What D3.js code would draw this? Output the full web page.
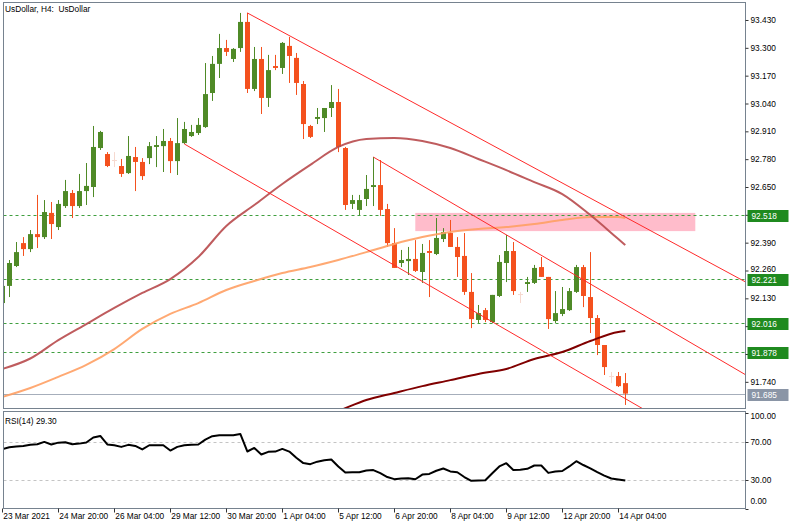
<!DOCTYPE html>
<html><head><meta charset="utf-8">
<script src="https://cdn.jsdelivr.net/npm/d3@7"></script>
<style>
body{margin:0;background:#fff;}
svg{display:block;}
text{font-family:"Liberation Sans",Arial,sans-serif;font-size:8.3px;fill:#000;}
</style>
</head><body><svg id="c" width="789" height="526"></svg>
<script>
// ---------- DATA ----------
const opens = [92.108,92.188,92.281,92.388,92.360,92.430,92.416,92.529,92.463,92.561,
92.622,92.561,92.631,92.650,92.832,92.804,92.776,92.748,92.715,92.790,
92.767,92.785,92.837,92.841,92.865,92.771,92.855,92.888,92.902,92.930,
93.089,93.225,93.299,93.248,93.299,93.421,93.108,93.248,93.066,93.215,
93.206,93.309,93.253,93.131,92.935,92.968,92.972,93.019,93.047,92.832,
92.571,92.543,92.594,92.650,92.659,92.547,92.388,92.295,92.304,92.314,
92.253,92.351,92.337,92.407,92.435,92.370,92.328,92.160,92.029,92.075,
92.019,92.141,92.295,92.351,92.150,92.197,92.202,92.276,92.230,92.024,
92.057,92.075,92.160,92.276,92.136,92.038,91.912,91.767,91.767,91.734];
const highs = [92.206,92.309,92.393,92.416,92.449,92.613,92.589,92.580,92.589,92.683,
92.636,92.711,92.762,92.935,92.912,92.813,92.813,92.781,92.888,92.837,
92.785,92.860,92.888,92.921,92.879,92.972,92.954,92.940,92.972,93.229,
93.262,93.365,93.337,93.299,93.463,93.463,93.304,93.304,93.267,93.267,
93.327,93.351,93.276,93.145,92.940,93.019,93.019,93.126,93.108,92.837,
92.613,92.613,92.706,92.790,92.776,92.571,92.458,92.356,92.370,92.402,
92.384,92.402,92.505,92.458,92.496,92.416,92.435,92.248,92.099,92.085,
92.146,92.332,92.426,92.393,92.160,92.230,92.286,92.323,92.230,92.164,
92.183,92.178,92.286,92.286,92.346,92.052,91.912,91.786,91.786,91.781];
const lows = [92.099,92.136,92.276,92.328,92.346,92.365,92.407,92.407,92.449,92.552,
92.505,92.552,92.566,92.603,92.823,92.743,92.743,92.697,92.711,92.631,
92.683,92.757,92.743,92.720,92.715,92.706,92.851,92.884,92.893,92.926,
93.052,93.159,93.262,93.234,93.281,93.089,93.098,92.991,93.024,93.196,
93.178,93.136,93.080,92.874,92.879,92.944,92.907,92.977,92.813,92.543,
92.547,92.519,92.561,92.561,92.515,92.370,92.272,92.276,92.239,92.253,
92.202,92.136,92.332,92.393,92.370,92.230,92.146,91.991,92.015,92.019,
92.015,92.136,92.206,92.146,92.108,92.160,92.197,92.230,91.987,92.015,
92.047,92.071,92.155,92.089,91.968,91.865,91.772,91.734,91.716,91.632];
const closes = [92.188,92.295,92.346,92.360,92.430,92.416,92.533,92.477,92.571,92.631,
92.561,92.631,92.655,92.837,92.907,92.748,92.776,92.711,92.795,92.767,
92.701,92.841,92.846,92.865,92.771,92.855,92.921,92.907,92.940,93.084,
93.225,93.299,93.281,93.295,93.421,93.108,93.248,93.066,93.196,93.206,
93.323,93.262,93.136,92.944,92.884,92.977,93.019,93.047,92.837,92.566,
92.589,92.589,92.641,92.659,92.543,92.388,92.272,92.309,92.314,92.258,
92.342,92.342,92.412,92.440,92.370,92.323,92.160,92.033,92.061,92.029,
92.146,92.300,92.351,92.164,92.150,92.206,92.272,92.230,92.033,92.061,
92.080,92.164,92.276,92.141,92.038,91.912,91.809,91.767,91.720,91.685];

const timeLabels = ["23 Mar 2021","24 Mar 20:00","26 Mar 04:00","29 Mar 12:00","30 Mar 20:00",
  "1 Apr 04:00","5 Apr 12:00","6 Apr 20:00","8 Apr 04:00","9 Apr 12:00","12 Apr 20:00","14 Apr 04:00"];
const timeLabelBars = [0,8,16,24,32,40,48,56,64,72,80,88];

// price grid ticks; the ones hidden behind level boxes get only a tick mark
const priceTicks = [93.430,93.300,93.170,93.040,92.910,92.780,92.650,92.520,92.390,92.260,92.130,92.000,91.870,91.740];
const hiddenTickLabels = [92.520,92.000,91.870];
const levelLines = [92.518,92.221,92.016,91.878];
const bidPrice = 91.685;

const maBars   = [0,4,8,12,16,20,24,28,32,36,40,44,48,52,56,60,64,68,72,76,80,84,88,89];
const maRed    = [91.800,91.849,91.935,92.010,92.085,92.155,92.220,92.323,92.468,92.566,92.664,92.753,
                  92.837,92.874,92.879,92.865,92.832,92.781,92.729,92.673,92.617,92.519,92.407,92.379];
const maOrange = [91.669,91.711,91.763,91.819,91.893,91.987,92.057,92.108,92.169,92.211,92.248,92.276,
                  92.309,92.346,92.384,92.416,92.440,92.454,92.463,92.477,92.496,92.510,92.510,92.505];
const maMaroonBars = [44,48,52,56,60,64,68,72,76,80,84,88,89];
const maMaroon = [91.560,91.604,91.655,91.688,91.720,91.748,91.777,91.800,91.847,91.879,91.931,91.973,91.977];

const rsiValues = [62.0,64.0,64.8,65.4,66.5,67.2,69.6,66.9,68.8,69.3,
67.2,67.8,69.0,74.2,75.8,66.9,66.1,64.4,66.5,65.4,
61.7,66.1,66.1,66.1,60.6,64.4,66.0,66.7,66.9,72.0,
75.5,76.6,76.6,76.6,77.9,59.6,63.3,56.5,59.2,59.5,
62.3,59.5,53.0,47.5,46.4,49.0,50.5,51.3,44.0,37.7,
37.9,38.0,39.8,40.2,37.0,33.0,30.8,31.5,31.8,30.7,
35.5,36.2,39.5,41.9,38.8,38.0,33.0,29.0,29.5,29.7,
37.0,44.0,47.4,40.4,40.6,41.5,45.0,45.0,37.3,38.8,
39.3,44.0,49.5,45.5,42.0,38.0,34.5,31.5,30.5,29.3];
const rsiLevels = [70,30];
const rsiTicks = [100,70,30,0];

const zoneBars = [59,99];
const zonePrices = [92.529,92.444];
const trendStart = [[35,93.463],[53,92.790],[26,92.851]];
const trendEnd   = [[110,92.139],[110,91.700],[110,91.265]];

// ---------- LAYOUT ----------
const L = 3.5, R = 745.5, mainTop = 2.5, mainBot = 408.5, rsiTop = 411.5, rsiBot = 508.5;
const frameColor = "#76828f";
const svg = d3.select("#c");

const x = d3.scaleLinear().domain([0,106]).range([2.3,744.3]);
const y = d3.scaleLinear().domain([91.6178,93.5094]).range([408,3]);
const ry = d3.scaleLinear().domain([0,100]).range([508.7,412.7]);

const defs = svg.append("defs");
defs.append("clipPath").attr("id","mainClip").append("rect")
  .attr("x",L).attr("y",mainTop).attr("width",R-L).attr("height",mainBot-mainTop);
defs.append("clipPath").attr("id","rsiClip").append("rect")
  .attr("x",L).attr("y",rsiTop).attr("width",R-L).attr("height",rsiBot-rsiTop);

const main = svg.append("g").attr("clip-path","url(#mainClip)");

// zone rectangle
main.append("rect")
  .attr("x",x(zoneBars[0])).attr("width",x(zoneBars[1])-x(zoneBars[0]))
  .attr("y",y(zonePrices[0])).attr("height",y(zonePrices[1])-y(zonePrices[0]))
  .attr("fill","#ffbccb");

// level lines
main.selectAll("line.lvl").data(levelLines).join("line").attr("class","lvl")
  .attr("x1",L).attr("x2",R).attr("y1",d=>Math.round(y(d))+0.5).attr("y2",d=>Math.round(y(d))+0.5)
  .attr("stroke","#3f9f3f").attr("stroke-width",1).attr("stroke-dasharray","3,3");

// bid line
main.append("line").attr("x1",L).attr("x2",R)
  .attr("y1",Math.round(y(bidPrice))+0.5).attr("y2",Math.round(y(bidPrice))+0.5)
  .attr("stroke","#a6aebb").attr("stroke-width",1);

// candles
const bars = d3.range(opens.length);
const candleColor = i => closes[i] > opens[i] ? "#4f8a27" : (closes[i] < opens[i] ? "#f4511e" : "#f6d9cf");
const cg = main.append("g");
cg.selectAll("line.wick").data(bars).join("line").attr("class","wick")
  .attr("x1",i=>Math.round(x(i))+0.5).attr("x2",i=>Math.round(x(i))+0.5)
  .attr("y1",i=>y(highs[i])).attr("y2",i=>y(lows[i]))
  .attr("stroke",candleColor).attr("stroke-width",1);
cg.selectAll("rect.body").data(bars).join("rect").attr("class","body")
  .attr("x",i=>Math.round(x(i))-2).attr("width",5)
  .attr("y",i=>y(Math.max(opens[i],closes[i])))
  .attr("height",i=>Math.max(1,Math.abs(y(opens[i])-y(closes[i]))))
  .attr("fill",candleColor);

// moving averages
const maLine = (bs, vs) => d3.line().curve(d3.curveMonotoneX).x((d,i)=>x(bs[i])).y(d=>y(d))(vs);
main.append("path").attr("d",maLine(maBars,maOrange)).attr("fill","none")
  .attr("stroke","#ffa064").attr("stroke-width",2).attr("stroke-opacity",0.9);
main.append("path").attr("d",maLine(maBars,maRed)).attr("fill","none")
  .attr("stroke","#b84a4c").attr("stroke-width",2).attr("stroke-opacity",0.9);
main.append("path").attr("d",maLine(maMaroonBars,maMaroon)).attr("fill","none")
  .attr("stroke","#800000").attr("stroke-width",2);

// trend lines
main.selectAll("line.trend").data(trendStart).join("line").attr("class","trend")
  .attr("x1",d=>x(d[0])).attr("y1",d=>y(d[1]))
  .attr("x2",(d,i)=>x(trendEnd[i][0])).attr("y2",(d,i)=>y(trendEnd[i][1]))
  .attr("stroke","#ff2a2a").attr("stroke-width",1);

// ---------- RSI ----------
const rsi = svg.append("g").attr("clip-path","url(#rsiClip)");
rsi.selectAll("line.rl").data(rsiLevels).join("line").attr("class","rl")
  .attr("x1",L).attr("x2",R).attr("y1",d=>Math.round(ry(d))+0.5).attr("y2",d=>Math.round(ry(d))+0.5)
  .attr("stroke","#c4c4c4").attr("stroke-dasharray","3,3");
rsi.append("path").datum(rsiValues)
  .attr("d",d3.line().x((d,i)=>x(i)).y(d=>ry(d)))
  .attr("fill","none").attr("stroke","#000").attr("stroke-width",2).attr("stroke-linejoin","round");
svg.append("text").attr("x",5).attr("y",424).text("RSI(14) " + rsiValues[rsiValues.length-1].toFixed(2));

// ---------- FRAME ----------
svg.append("rect").attr("x",L).attr("y",mainTop).attr("width",R-L).attr("height",mainBot-mainTop)
  .attr("fill","none").attr("stroke",frameColor);
svg.append("rect").attr("x",L).attr("y",rsiTop).attr("width",R-L).attr("height",rsiBot-rsiTop)
  .attr("fill","none").attr("stroke",frameColor);

// ---------- PRICE AXIS ----------
const fmt = d3.format(".3f");
const pa = svg.append("g").attr("transform",`translate(${R},0)`)
  .call(d3.axisRight(y).tickValues(priceTicks).tickSize(3).tickPadding(2)
    .tickFormat(d => hiddenTickLabels.includes(d) ? "" : fmt(d)));
pa.select(".domain").remove();
pa.selectAll("line").attr("stroke","#333");
pa.selectAll("text").attr("font-family",null).attr("font-size",null).attr("fill","#222")
  .attr("dy", d => d === 92.260 ? "0.1em" : "0.32em");

// level label boxes
const boxes = levelLines.map(v=>({v,c:"#1f8a1f"})).concat([{v:bidPrice,c:"#8a95a6"}]);
const bg = svg.append("g");
bg.selectAll("rect").data(boxes).join("rect")
  .attr("x",R+2).attr("width",41).attr("y",d=>Math.round(y(d.v))-5).attr("height",12).attr("fill",d=>d.c);
bg.selectAll("text").data(boxes).join("text")
  .attr("x",R+6).attr("y",d=>Math.round(y(d.v))+4).style("fill","#fff")
  .text(d=>d.v.toFixed(3));

// ---------- RSI AXIS ----------
const ra = svg.append("g");
ra.selectAll("line").data(rsiTicks).join("line")
  .attr("x1",R).attr("x2",R+3).attr("y1",d=>Math.round(ry(d))+0.5).attr("y2",d=>Math.round(ry(d))+0.5)
  .attr("stroke","#333");
ra.selectAll("text").data(rsiTicks).join("text")
  .attr("x",R+5).attr("y",d=>Math.min(504,Math.max(419,ry(d)+3)))
  .attr("fill","#222").text(d=>d.toFixed(2));

// ---------- TIME AXIS ----------
const ta = svg.append("g");
ta.selectAll("line").data(timeLabelBars).join("line")
  .attr("x1",d=>Math.round(x(d))+0.5).attr("x2",d=>Math.round(x(d))+0.5)
  .attr("y1",rsiBot).attr("y2",rsiBot+4).attr("stroke","#333");
ta.selectAll("text").data(timeLabelBars).join("text")
  .attr("x",d=>x(d)+1).attr("y",519).attr("fill","#222").text((d,i)=>timeLabels[i]);

// title
svg.append("text").attr("x",5).attr("y",12).attr("xml:space","preserve").style("white-space","pre")
  .text("UsDollar, H4:  UsDollar");
</script>
</body></html>
